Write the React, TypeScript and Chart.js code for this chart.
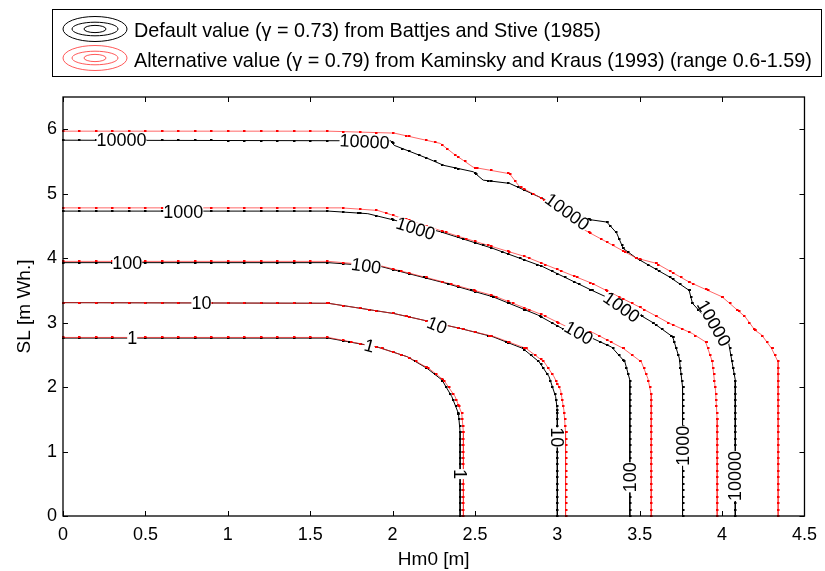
import React, { useEffect, useRef } from "react";
import { Chart, registerables } from "chart.js";
Chart.register(...registerables);

const FONT = '"Liberation Sans", Arial, Helvetica, sans-serif';

// axis ticks
const xTicks = [0, 0.5, 1, 1.5, 2, 2.5, 3, 3.5, 4, 4.5];
const yTicks = [0, 1, 2, 3, 4, 5, 6];
const xRange = [0, 4.5];
const yRange = [0, 6.5];

// legend
const seriesNames = [
  "Default value (\u03b3 = 0.73) from Battjes and Stive (1985)",
  "Alternative value (\u03b3 = 0.79) from Kaminsky and Kraus (1993) (range 0.6-1.59)",
];

// Default (black) contours
const def1X = [0, 1.61, 1.91, 2.09, 2.21, 2.30, 2.36, 2.40, 2.41, 2.41];
const def1Y = [2.76, 2.76, 2.62, 2.47, 2.29, 2.11, 1.85, 1.59, 1.3, 0];
const def10X = [0, 1.61, 2.01, 2.41, 2.61, 2.79, 2.89, 2.95, 2.99, 3.0, 3.0];
const def10Y = [3.31, 3.30, 3.14, 2.91, 2.78, 2.60, 2.39, 2.16, 1.85, 1.64, 0];
const def100X = [0, 1.61, 1.93, 2.31, 2.61, 2.88, 3.05, 3.21, 3.33, 3.41, 3.44, 3.44];
const def100Y = [3.93, 3.93, 3.87, 3.62, 3.40, 3.12, 2.88, 2.76, 2.62, 2.39, 2.11, 0];
const def1000X = [0, 1.61, 1.85, 2.01, 2.29, 2.61, 2.91, 3.21, 3.38, 3.50, 3.58, 3.70, 3.74, 3.76, 3.76];
const def1000Y = [4.73, 4.73, 4.69, 4.59, 4.41, 4.15, 3.87, 3.50, 3.30, 3.12, 3.0, 2.78, 2.45, 2.0, 0];
const def10000X = [0, 1.99, 2.01, 2.21, 2.31, 2.49, 2.55, 2.71, 2.89, 3.19, 3.30, 3.36, 3.40, 3.48, 3.68, 3.80, 3.82, 4.04, 4.08, 4.08];
const def10000Y = [5.83, 5.82, 5.75, 5.55, 5.44, 5.34, 5.21, 5.16, 4.95, 4.60, 4.56, 4.39, 4.15, 4.0, 3.71, 3.50, 3.30, 2.68, 2.11, 0];

// Alternative (red) contours
const alt1X = [0, 1.61, 1.91, 2.09, 2.22, 2.31, 2.38, 2.42, 2.43, 2.43];
const alt1Y = [2.77, 2.77, 2.62, 2.47, 2.29, 2.11, 1.85, 1.59, 1.3, 0];
const alt10X = [0, 1.61, 2.01, 2.41, 2.62, 2.81, 2.92, 2.98, 3.02, 3.04, 3.05, 3.05];
const alt10Y = [3.31, 3.30, 3.14, 2.91, 2.78, 2.60, 2.39, 2.16, 1.95, 1.64, 1.3, 0];
const alt100X = [0, 1.61, 1.93, 2.31, 2.61, 2.91, 3.07, 3.22, 3.40, 3.51, 3.55, 3.57, 3.57];
const alt100Y = [3.95, 3.95, 3.88, 3.63, 3.42, 3.12, 2.92, 2.84, 2.60, 2.39, 2.13, 1.88, 0];
const alt1000X = [0, 1.69, 1.91, 2.41, 2.81, 3.21, 3.50, 3.68, 3.82, 3.90, 3.94, 3.96, 3.97, 3.97];
const alt1000Y = [4.78, 4.78, 4.74, 4.33, 4.02, 3.61, 3.24, 2.99, 2.83, 2.70, 2.40, 1.95, 1.5, 0];
const alt10000X = [0, 1.61, 2.01, 2.29, 2.37, 2.49, 2.71, 2.77, 2.89, 3.17, 3.48, 3.60, 3.80, 4.00, 4.14, 4.20, 4.24, 4.30, 4.34, 4.34];
const alt10000Y = [5.97, 5.97, 5.94, 5.78, 5.62, 5.41, 5.31, 5.11, 4.95, 4.43, 4.0, 3.92, 3.63, 3.40, 3.09, 2.88, 2.81, 2.60, 2.39, 0];

// contour labels (data coordinates, rotation in degrees)
const labelText = ["10000", "10000", "10000", "10000", "10000", "1000", "1000", "1000", "1000", "100", "100", "100", "100", "10", "10", "10", "1", "1", "1"];
const labelX = [0.355, 1.83, 3.06, 3.95, 4.08, 0.73, 2.14, 3.39, 3.76, 0.39, 1.84, 3.13, 3.44, 0.84, 2.27, 3.0, 0.42, 1.86, 2.41];
const labelY = [5.83, 5.81, 4.72, 2.99, 0.62, 4.72, 4.46, 3.24, 1.09, 3.92, 3.88, 2.84, 0.60, 3.30, 2.96, 1.22, 2.76, 2.64, 0.65];
const labelAngle = [0, 3, 36, 60, -90, 0, 18, 35, -90, 0, 8, 30, -90, 0, 22, 90, 0, 15, 90];

const zip = (xs: number[], ys: number[]) => xs.map((x, i) => ({ x, y: ys[i] }));

const BLACK = "#000000";
const RED_LINE = "rgba(255,40,40,0.7)";
const RED_MARK = "#ff0000";

const blackSets = [
  [def1X, def1Y], [def10X, def10Y], [def100X, def100Y], [def1000X, def1000Y], [def10000X, def10000Y],
];
const redSets = [
  [alt1X, alt1Y], [alt10X, alt10Y], [alt100X, alt100Y], [alt1000X, alt1000Y], [alt10000X, alt10000Y],
];

const overlay = {
  id: "overlay",
  afterDatasetsDraw(chart: any) {
    const { ctx, scales } = chart;
    const xs = scales.x;
    const ys = scales.y;
    const step = 0.1;
    ctx.save();
    // grid-crossing markers (contour vertices)
    chart.data.datasets.forEach((ds: any) => {
      ctx.fillStyle = ds.markerColor;
      const pts = ds.data;
      for (let i = 0; i < pts.length - 1; i++) {
        const a = pts[i];
        const b = pts[i + 1];
        const cr: number[][] = [];
        if (a.x !== b.x) {
          const lo = Math.min(a.x, b.x), hi = Math.max(a.x, b.x);
          for (let k = Math.ceil(lo / step - 1e-9); k * step <= hi + 1e-9; k++) {
            const xv = k * step;
            const t = (xv - a.x) / (b.x - a.x);
            cr.push([xv, a.y + t * (b.y - a.y)]);
          }
        }
        if (a.y !== b.y) {
          const lo = Math.min(a.y, b.y), hi = Math.max(a.y, b.y);
          for (let k = Math.ceil(lo / step - 1e-9); k * step <= hi + 1e-9; k++) {
            const yv = k * step;
            const t = (yv - a.y) / (b.y - a.y);
            cr.push([a.x + t * (b.x - a.x), yv]);
          }
        }
        cr.forEach(([xv, yv]) => {
          const px = xs.getPixelForValue(xv);
          const py = ys.getPixelForValue(yv);
          ctx.fillRect(Math.round(px) - 1, Math.round(py) - 1, 2.5, 2);
        });
      }
    });
    // contour labels
    ctx.font = `18px ${FONT}`;
    ctx.textAlign = "center";
    ctx.textBaseline = "middle";
    labelText.forEach((t, i) => {
      const px = xs.getPixelForValue(labelX[i]);
      const py = ys.getPixelForValue(labelY[i]);
      const w = ctx.measureText(t).width;
      ctx.save();
      ctx.translate(px, py);
      ctx.rotate((labelAngle[i] * Math.PI) / 180);
      ctx.fillStyle = "#ffffff";
      ctx.fillRect(-w / 2, -6, w, 12);
      ctx.fillStyle = "#000000";
      ctx.fillText(t, 0, 1);
      ctx.restore();
    });
    ctx.restore();
  },
  afterDraw(chart: any) {
    const { ctx, chartArea: ca, scales } = chart;
    const xs = scales.x;
    const ys = scales.y;
    ctx.save();
    // axes box
    ctx.strokeStyle = "#000";
    ctx.lineWidth = 1.3;
    ctx.strokeRect(ca.left, ca.top, ca.right - ca.left, ca.bottom - ca.top);
    // inward ticks
    ctx.lineWidth = 1;
    ctx.beginPath();
    const tl = 5;
    xTicks.forEach((v) => {
      const px = Math.round(xs.getPixelForValue(v)) + 0.5;
      ctx.moveTo(px, ca.bottom);
      ctx.lineTo(px, ca.bottom - tl);
      ctx.moveTo(px, ca.top);
      ctx.lineTo(px, ca.top + tl);
    });
    yTicks.forEach((v) => {
      const py = Math.round(ys.getPixelForValue(v)) + 0.5;
      ctx.moveTo(ca.left, py);
      ctx.lineTo(ca.left + tl, py);
      ctx.moveTo(ca.right, py);
      ctx.lineTo(ca.right - tl, py);
    });
    ctx.stroke();

    // legend
    ctx.lineWidth = 1;
    ctx.strokeStyle = "#000";
    ctx.strokeRect(52.5, 9.5, 769, 67);
    const icon = (cx: number, cy: number, color: string) => {
      ctx.strokeStyle = color;
      ctx.lineWidth = 1;
      [[32, 12.5], [23, 6.8], [11, 3.6]].forEach(([rx, ry]) => {
        ctx.beginPath();
        ctx.ellipse(cx, cy, rx, ry, 0, 0, Math.PI * 2);
        ctx.stroke();
      });
    };
    icon(95, 29, "#000");
    icon(95, 58, "rgba(255,60,60,0.85)");
    ctx.fillStyle = "#000";
    ctx.font = `19.8px ${FONT}`;
    ctx.textAlign = "left";
    ctx.textBaseline = "alphabetic";
    ctx.fillText(seriesNames[0], 134, 36.5);
    ctx.fillText(seriesNames[1], 134, 66.5);
    ctx.restore();
  },
};

export default function App() {
  const ref = useRef<HTMLCanvasElement | null>(null);
  useEffect(() => {
    if (!ref.current) return;
    const datasets: any[] = [];
    blackSets.forEach(([xs, ys], i) => {
      datasets.push({
        label: "default " + i,
        data: zip(xs, ys),
        borderColor: BLACK,
        borderWidth: 1,
        pointRadius: 0,
        showLine: true,
        tension: 0,
        order: 2,
        markerColor: BLACK,
      });
    });
    redSets.forEach(([xs, ys], i) => {
      datasets.push({
        label: "alternative " + i,
        data: zip(xs, ys),
        borderColor: RED_LINE,
        borderWidth: 1,
        pointRadius: 0,
        showLine: true,
        tension: 0,
        order: 1,
        markerColor: RED_MARK,
      });
    });
    const chart = new Chart(ref.current, {
      type: "scatter",
      data: { datasets },
      options: {
        animation: false,
        responsive: false,
        devicePixelRatio: 1,
        layout: { padding: { top: 97, right: 14, left: 0, bottom: 0 } },
        plugins: { legend: { display: false }, tooltip: { enabled: false } },
        scales: {
          x: {
            type: "linear",
            min: xRange[0],
            max: xRange[1],
            grid: { display: false, drawTicks: false },
            border: { display: false },
            afterBuildTicks: (s: any) => {
              s.ticks = xTicks.map((v) => ({ value: v }));
            },
            afterFit: (s: any) => {
              s.height = 55;
            },
            ticks: {
              padding: 8,
              color: "#000",
              font: { family: FONT, size: 18 },
              callback: (v: any) => String(v),
              maxRotation: 0,
            },
            title: {
              display: true,
              text: "Hm0 [m]",
              color: "#000",
              font: { family: FONT, size: 19 },
              padding: { top: 0, bottom: 0 },
            },
          },
          y: {
            type: "linear",
            min: yRange[0],
            max: yRange[1],
            grid: { display: false, drawTicks: false },
            border: { display: false },
            afterBuildTicks: (s: any) => {
              s.ticks = yTicks.map((v) => ({ value: v }));
            },
            afterFit: (s: any) => {
              s.width = 63;
            },
            ticks: {
              padding: 6,
              color: "#000",
              font: { family: FONT, size: 18 },
              callback: (v: any) => String(v),
            },
            title: {
              display: true,
              text: "SL [m Wh.]",
              color: "#000",
              font: { family: FONT, size: 19 },
              padding: { top: 13, bottom: 0 },
            },
          },
        },
      },
      plugins: [overlay],
    });
    return () => chart.destroy();
  }, []);
  return (
    <div style={{ position: "absolute", left: 0, top: 0, width: 825, height: 571, background: "#fff" }}>
      <canvas ref={ref} width={825} height={571} style={{ display: "block" }} />
    </div>
  );
}
